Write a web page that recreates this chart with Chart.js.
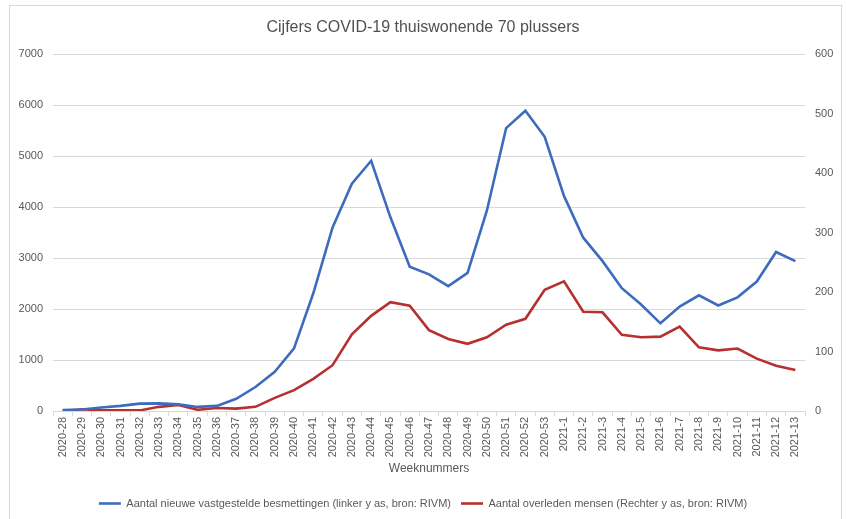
<!DOCTYPE html>
<html>
<head>
<meta charset="utf-8">
<script src="https://cdn.jsdelivr.net/npm/chart.js@4/dist/chart.umd.min.js"></script>
<style>
  html, body { margin: 0; padding: 0; background: #fff; }
  #wrap { width: 846px; height: 519px; position: relative; }
</style>
</head>
<body>
<div id="wrap"><canvas id="chart" width="846" height="519"></canvas></div>
<script>
// Weeknummers (x-as)
const weken = [
    '2020-28', '2020-29', '2020-30', '2020-31', '2020-32', '2020-33', '2020-34', '2020-35',
    '2020-36', '2020-37', '2020-38', '2020-39', '2020-40', '2020-41', '2020-42', '2020-43',
    '2020-44', '2020-45', '2020-46', '2020-47', '2020-48', '2020-49', '2020-50', '2020-51',
    '2020-52', '2020-53', '2021-1', '2021-2', '2021-3', '2021-4', '2021-5', '2021-6',
    '2021-7', '2021-8', '2021-9', '2021-10', '2021-11', '2021-12', '2021-13'
];

// Nieuwe besmettingen (linker y-as)
const besmettingen = [
    20, 30, 70, 100, 145, 150, 130, 80,
    100, 240, 470, 770, 1230, 2310, 3600, 4460,
    4910, 3800, 2830, 2680, 2450, 2710, 3930, 5550,
    5890, 5380, 4220, 3400, 2940, 2410, 2090, 1720,
    2050, 2270, 2070, 2230, 2540, 3120, 2940
];

// Overleden (rechter y-as)
const overleden = [
    0, 3, 1, 1, 1, 7, 10, 2,
    5, 4, 7, 22, 35, 54, 77, 129,
    160, 183, 177, 136, 121, 113, 124, 145,
    155, 204, 218, 167, 166, 128, 124, 125,
    142, 107, 102, 105, 88, 76, 69
];

const tekstKleur = '#595959';
const rasterKleur = '#d9d9d9';

// Kader rond de grafiek
const kader = {
    id: 'kader',
    beforeDraw(chart) {
        const ctx = chart.ctx;
        ctx.save();
        ctx.fillStyle = '#ffffff';
        ctx.fillRect(0, 0, chart.width, chart.height);
        ctx.strokeStyle = rasterKleur;
        ctx.lineWidth = 1;
        ctx.strokeRect(9.5, 5.5, 832, 530);
        ctx.restore();
    }
};

const ctx = document.getElementById('chart').getContext('2d');
new Chart(ctx, {
    type: 'line',
    data: {
        labels: weken,
        datasets: [
            {
                label: 'Aantal nieuwe vastgestelde besmettingen (linker y as, bron: RIVM)',
                data: besmettingen,
                borderColor: '#3d6cbf',
                backgroundColor: '#3d6cbf',
                borderWidth: 2.6,
                pointRadius: 0,
                tension: 0,
                yAxisID: 'y'
            },
            {
                label: 'Aantal overleden mensen (Rechter y as, bron: RIVM)',
                data: overleden,
                borderColor: '#b5302f',
                backgroundColor: '#b5302f',
                borderWidth: 2.6,
                pointRadius: 0,
                tension: 0,
                yAxisID: 'y1'
            }
        ]
    },
    options: {
        responsive: false,
        animation: false,
        layout: { padding: 0 },
        plugins: {
            title: {
                display: true,
                text: 'Cijfers COVID-19 thuiswonende 70 plussers',
                color: '#505050',
                font: { family: 'Liberation Sans', size: 16, weight: 'normal' },
                padding: { top: 18, bottom: 17 }
            },
            legend: {
                position: 'bottom',
                labels: {
                    color: tekstKleur,
                    font: { family: 'Liberation Sans', size: 11 },
                    usePointStyle: true,
                    pointStyle: 'line',
                    pointStyleWidth: 22,
                    padding: 10
                }
            },
            tooltip: { enabled: false }
        },
        scales: {
            x: {
                offset: true,
                grid: {
                    offset: true,
                    drawOnChartArea: false,
                    drawTicks: true,
                    tickLength: 5,
                    color: rasterKleur
                },
                border: { color: rasterKleur },
                ticks: {
                    color: tekstKleur,
                    font: { family: 'Liberation Sans', size: 11 },
                    maxRotation: 90,
                    minRotation: 90,
                    autoSkip: false,
                    padding: 1
                },
                title: {
                    display: true,
                    text: 'Weeknummers',
                    color: tekstKleur,
                    font: { family: 'Liberation Sans', size: 12 },
                    padding: { top: 4, bottom: 12 }
                },
                afterFit(scale) { scale.height = 77; }
            },
            y: {
                position: 'left',
                min: 0,
                max: 7000,
                ticks: {
                    stepSize: 1000,
                    color: tekstKleur,
                    font: { family: 'Liberation Sans', size: 11 },
                    padding: 10,
                    callback: value => String(value)
                },
                grid: { color: rasterKleur, drawTicks: false },
                border: { display: false },
                afterFit(scale) { scale.width = 53; }
            },
            y1: {
                position: 'right',
                min: 0,
                max: 600,
                ticks: {
                    stepSize: 100,
                    color: tekstKleur,
                    font: { family: 'Liberation Sans', size: 11 },
                    padding: 10,
                    callback: value => String(value)
                },
                grid: { drawOnChartArea: false, drawTicks: false },
                border: { display: false },
                afterFit(scale) { scale.width = 41; }
            }
        }
    },
    plugins: [kader]
});
</script>
</body>
</html>
